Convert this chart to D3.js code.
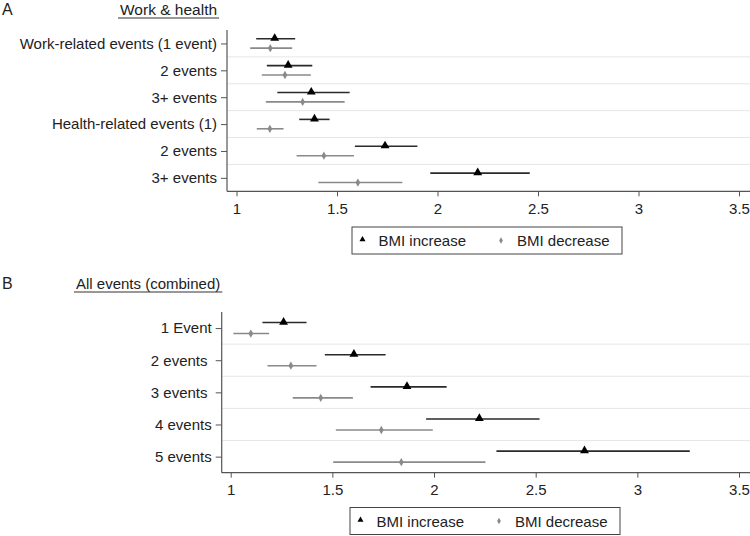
<!DOCTYPE html>
<html><head><meta charset="utf-8">
<script src="https://cdn.jsdelivr.net/npm/d3@7"></script>
<style>
body{margin:0;background:#fff;}
svg{font-family:"Liberation Sans",Arial,sans-serif;}
text{white-space:pre;}
</style></head>
<body>
<svg id="c" width="750" height="536"></svg>
<script>
// Panel A data
const catsA = ["Work-related events (1 event)", "2 events", "3+ events", "Health-related events (1)", "2 events", "3+ events"];
const incA = [1.19, 1.257, 1.372, 1.388, 1.739, 2.20];
const incALo = [1.098, 1.151, 1.203, 1.312, 1.589, 1.964];
const incAHi = [1.292, 1.377, 1.563, 1.463, 1.900, 2.459];
const decA = [1.168, 1.241, 1.329, 1.166, 1.435, 1.604];
const decALo = [1.068, 1.126, 1.146, 1.101, 1.299, 1.407];
const decAHi = [1.277, 1.370, 1.538, 1.234, 1.584, 1.825];
// Panel B data
const catsB = ["1 Event", "2 events ", "3 events ", "4 events", "5 events"];
const incB = [1.260, 1.606, 1.867, 2.223, 2.740];
const incBLo = [1.156, 1.463, 1.688, 1.961, 2.307];
const incBHi = [1.373, 1.762, 2.062, 2.519, 3.258];
const decB = [1.099, 1.296, 1.443, 1.741, 1.839];
const decBLo = [1.013, 1.181, 1.305, 1.517, 1.504];
const decBHi = [1.189, 1.422, 1.601, 1.994, 2.253];
const xTicks = [1, 1.5, 2, 2.5, 3, 3.5];
const seriesNames = ["BMI increase", "BMI decrease"];

const svg = d3.select("#c");
const W = 750, FS = 15;
const incColor = "#2a2a2a", decColor = "#8a8a8a", axisColor = "#555";

function panel(o) {
  const g = svg.append("g");
  const x = d3.scaleLinear().domain([1, 3.5]).range([o.x1, 739]);
  const idx = d3.range(o.cats.length);
  const y = d3.scaleBand().domain(idx).range([o.top, o.bottom]);
  idx.slice(1).forEach(i => {
    g.append("line").attr("x1", o.axisX).attr("x2", W)
      .attr("y1", y(i)).attr("y2", y(i))
      .attr("stroke", "#e6e6e6").attr("stroke-width", 1);
  });
  const xa = g.append("g").attr("transform", `translate(0,${o.bottom})`)
    .call(d3.axisBottom(x).tickValues(xTicks).tickFormat(d3.format("")).tickSize(5).tickPadding(7));
  xa.select(".domain").remove();
  xa.selectAll(".tick line").attr("stroke", axisColor);
  xa.selectAll("text").attr("font-size", FS).attr("fill", "#222").attr("font-family", "Liberation Sans, Arial, sans-serif");
  g.append("line").attr("x1", o.axisX).attr("x2", W).attr("y1", o.bottom).attr("y2", o.bottom)
    .attr("stroke", axisColor).attr("stroke-width", 1.2);
  const ya = g.append("g").attr("transform", `translate(${o.axisX},0)`)
    .call(d3.axisLeft(d3.scalePoint().domain(idx).range([o.top + y.bandwidth()/2, o.bottom - y.bandwidth()/2]))
      .tickFormat(i => o.cats[i]).tickSize(6).tickPadding(4));
  ya.select(".domain").remove();
  ya.selectAll(".tick line").attr("stroke", axisColor);
  ya.selectAll("text").attr("font-size", FS).attr("fill", "#222").attr("font-family", "Liberation Sans, Arial, sans-serif");
  g.append("line").attr("x1", o.axisX).attr("x2", o.axisX).attr("y1", o.top).attr("y2", o.bottom)
    .attr("stroke", axisColor).attr("stroke-width", 1.2);
  const cy = i => y(i) + y.bandwidth() / 2;
  idx.forEach(i => {
    g.append("line").attr("x1", x(o.decLo[i])).attr("x2", x(o.decHi[i]))
      .attr("y1", cy(i) + o.off).attr("y2", cy(i) + o.off)
      .attr("stroke", decColor).attr("stroke-width", 1.6);
    g.append("line").attr("x1", x(o.incLo[i])).attr("x2", x(o.incHi[i]))
      .attr("y1", cy(i) - o.off).attr("y2", cy(i) - o.off)
      .attr("stroke", incColor).attr("stroke-width", 1.6);
  });
  const tri = d3.symbol().type(d3.symbolTriangle).size(34);
  const dia = d3.symbol().type(d3.symbolDiamond).size(20);
  idx.forEach(i => {
    g.append("path").attr("d", dia).attr("fill", decColor)
      .attr("transform", `translate(${x(o.dec[i])},${cy(i) + o.off})`);
    g.append("path").attr("d", tri).attr("fill", "#000")
      .attr("transform", `translate(${x(o.inc[i])},${cy(i) - o.off - 0.5})`);
  });
  svg.append("text").attr("x", 2).attr("y", o.letterY).attr("font-size", 16).attr("fill", "#222").text(o.letter);
  const t = svg.append("text").attr("x", o.titleX).attr("y", o.titleY).attr("font-size", o.titleFS).attr("fill", "#222").text(o.title);
  const bb = t.node().getBBox();
  svg.append("line").attr("x1", bb.x - 2).attr("x2", bb.x + bb.width + 2)
    .attr("y1", o.titleY + 3.5).attr("y2", o.titleY + 3.5).attr("stroke", "#333").attr("stroke-width", 1.2);
  const lg = svg.append("g").attr("transform", `translate(${o.legX},${o.legY})`);
  lg.append("rect").attr("x", 0).attr("y", 0).attr("width", 270).attr("height", 27)
    .attr("fill", "#fff").attr("stroke", "#444").attr("stroke-width", 1);
  lg.append("path").attr("d", d3.symbol().type(d3.symbolTriangle).size(16)).attr("fill", "#000")
    .attr("transform", "translate(10.5,12.5)");
  lg.append("text").attr("x", 26.5).attr("y", 19).attr("font-size", FS).attr("fill", "#222").text(seriesNames[0]);
  lg.append("path").attr("d", d3.symbol().type(d3.symbolDiamond).size(12)).attr("fill", decColor)
    .attr("transform", "translate(149,13.5)");
  lg.append("text").attr("x", 165).attr("y", 19).attr("font-size", FS).attr("fill", "#222").text(seriesNames[1]);
}

panel({cats: catsA, inc: incA, incLo: incALo, incHi: incAHi, dec: decA, decLo: decALo, decHi: decAHi,
  x1: 236.5, axisX: 227, top: 30, bottom: 191.3, off: 4.7,
  letter: "A", letterY: 15, title: "Work & health", titleFS: 15.5, titleX: 120, titleY: 14.5,
  legX: 352, legY: 227});
panel({cats: catsB, inc: incB, incLo: incBLo, incHi: incBHi, dec: decB, decLo: decBLo, decHi: decBHi,
  x1: 230.7, axisX: 221.7, top: 312, bottom: 472.7, off: 5.5,
  letter: "B", letterY: 289, title: "All events (combined)", titleFS: 15, titleX: 76, titleY: 288.5,
  legX: 350, legY: 507.5});
</script>
</body></html>
